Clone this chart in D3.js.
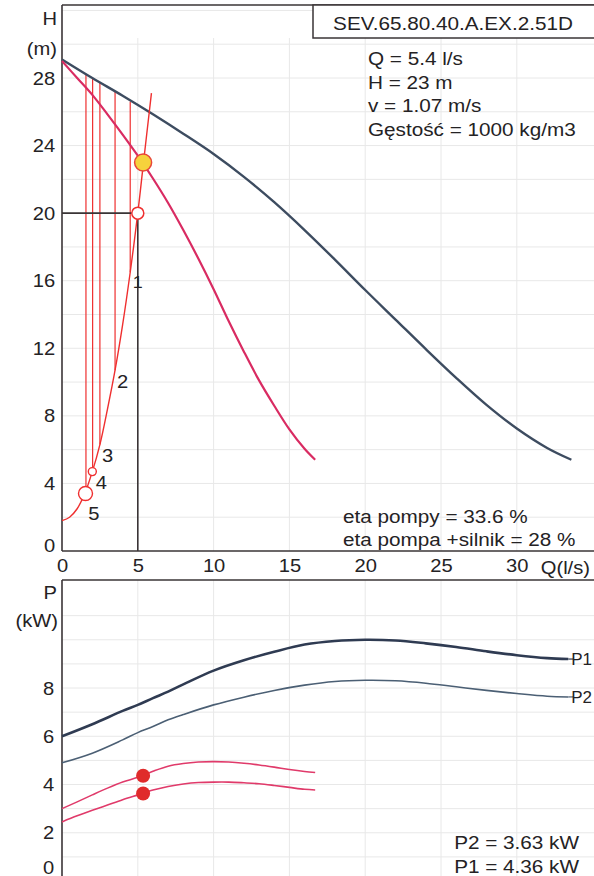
<!DOCTYPE html>
<html><head><meta charset="utf-8">
<script src="https://cdn.jsdelivr.net/npm/d3@7"></script>
<style>
html,body{margin:0;padding:0;background:#fff;}
svg{display:block;font-family:"Liberation Sans",Arial,sans-serif;}
</style></head>
<body><svg id="c" width="594" height="876"></svg>
<script>
// ---- data ----
const pumpQ = [0,2,4,6,8,10,12,14,16,18,20,22,24,26,28,30,32,33.6];
const pumpH = [29.1,28.0,26.95,25.85,24.7,23.5,22.15,20.65,19.0,17.25,15.45,13.7,11.95,10.25,8.65,7.25,6.1,5.4];
const redQ = [0,1,2,3,4,5,6,7,8,9,10,11,12,13,14,15,16,16.7];
const redH = [29.0,28.0,27.0,25.85,24.65,23.4,22.05,20.6,19.0,17.3,15.5,13.6,11.8,10.1,8.6,7.2,6.05,5.4];
const sysQ = [0,0.5,1,1.5,2,2.5,3,3.5,4,4.5,5,5.35,5.9];
const sysH = [1.8,2.0,2.5,3.4,4.7,6.3,8.4,10.7,13.4,16.5,20.0,22.8,27.1];
const vQ = [1.58,2.02,2.5,3.5,4.5];
const vTop = [28.2,28.0,27.7,27.2,26.6];
const vBot = [3.6,4.7,6.3,10.7,16.5];
const ptLabels = ["5","4","3","2","1"];
const ptLabQ = [2.1,2.6,3.0,4.0,5.0];
const ptLabH = [2.2,4.0,5.6,10.0,15.9];
const dutyQ = 5.35, dutyH = 23.0;
const refQ = 5.0, refH = 20.0;
const circQ = [1.55,2.0];
const circH = [3.4,4.7];

const p1Q = [0,2,4,5,6,7,8,10,12,14,16,18,20,22,24,26,28,30,32,33.4];
const p1V = [6.0,6.5,7.05,7.3,7.58,7.85,8.15,8.72,9.15,9.5,9.8,9.95,10.0,9.97,9.85,9.7,9.52,9.36,9.24,9.2];
const p2Q = [0,2,4,5,6,7,8,10,12,14,16,18,20,22,24,26,28,30,32,33.4];
const p2V = [4.9,5.3,5.85,6.15,6.4,6.68,6.9,7.3,7.62,7.9,8.12,8.27,8.32,8.3,8.2,8.05,7.9,7.77,7.66,7.63];
const rp1Q = [0,1,2,3,4,5,6,7,8,9,10,11,12,13,14,15,16,16.7];
const rp1V = [3.0,3.28,3.57,3.85,4.1,4.3,4.55,4.76,4.87,4.93,4.95,4.93,4.88,4.81,4.72,4.62,4.54,4.5];
const rp2Q = [0,1,2,3,4,5,6,7,8,9,10,11,12,13,14,15,16,16.7];
const rp2V = [2.45,2.7,2.93,3.15,3.37,3.57,3.77,3.92,4.02,4.08,4.1,4.1,4.07,4.03,3.96,3.88,3.8,3.77];
const dutyP1 = 4.36, dutyP2 = 3.63;

const xTicks = [0,5,10,15,20,25,30];
const hTicks = [0,4,8,12,16,20,24,28];
const pTicks = [0,2,4,6,8];
const infoLines = ["Q = 5.4 l/s","H = 23 m","v = 1.07 m/s","Gęstość = 1000 kg/m3"];
const titleText = "SEV.65.80.40.A.EX.2.51D";
const etaLines = ["eta pompy = 33.6 %","eta pompa +silnik = 28 %"];
const powLines = ["P2 = 3.63 kW","P1 = 4.36 kW"];

// ---- scales ----
const svg = d3.select("#c");
const x = d3.scaleLinear().domain([0,35]).range([62,62+35*15.16]);
const yH = d3.scaleLinear().domain([0,28]).range([551,78]);
const yP = d3.scaleLinear().domain([0,8]).range([881,688]);
const txt = "#242224", axisC = "#3a3436", gridC = "#e8e8e8";
const SX = 1.12;

function T(px, py, str, size, anchor, sx){
  return svg.append("text").attr("transform",`translate(${px},${py}) scale(${sx||SX},1)`)
    .attr("text-anchor",anchor||"start").attr("font-size",size).attr("fill",txt).text(str);
}

// ---- grids ----
const gTop = svg.append("g");
gTop.selectAll("line").data(d3.range(2,33,2)).join("line")
  .attr("x1",62).attr("x2",594).attr("y1",d=>yH(d)).attr("y2",d=>yH(d))
  .attr("stroke",gridC).attr("stroke-width",1);
const gTopV = svg.append("g");
gTopV.selectAll("line").data(xTicks.slice(1)).join("line")
  .attr("x1",d=>x(d)).attr("x2",d=>x(d)).attr("y1",38).attr("y2",551)
  .attr("stroke",gridC).attr("stroke-width",1);
const gBot = svg.append("g");
gBot.selectAll("line").data(d3.range(1,12)).join("line")
  .attr("x1",62).attr("x2",594).attr("y1",d=>yP(d)).attr("y2",d=>yP(d))
  .attr("stroke",gridC).attr("stroke-width",1);
const gBotV = svg.append("g");
gBotV.selectAll("line").data(xTicks.slice(1)).join("line")
  .attr("x1",d=>x(d)).attr("x2",d=>x(d)).attr("y1",580).attr("y2",876)
  .attr("stroke",gridC).attr("stroke-width",1);

// ---- frames / axes ----
svg.append("line").attr("x1",62).attr("x2",594).attr("y1",5).attr("y2",5).attr("stroke",axisC).attr("stroke-width",1.6);
svg.append("rect").attr("x",313).attr("y",5).attr("width",300).attr("height",33)
  .attr("fill","#fff").attr("stroke",axisC).attr("stroke-width",1.5);
svg.append("line").attr("x1",62).attr("x2",62).attr("y1",5).attr("y2",551).attr("stroke",axisC).attr("stroke-width",1.6);
svg.append("line").attr("x1",62).attr("x2",594).attr("y1",551).attr("y2",551).attr("stroke",axisC).attr("stroke-width",1.6);
svg.append("line").attr("x1",62).attr("x2",594).attr("y1",580).attr("y2",580).attr("stroke",axisC).attr("stroke-width",1.6);
svg.append("line").attr("x1",62).attr("x2",62).attr("y1",580).attr("y2",876).attr("stroke",axisC).attr("stroke-width",1.6);

const fs = 18;
// top y axis
const axH = svg.append("g").attr("transform","translate(62,0)")
  .call(d3.axisLeft(yH).tickValues(hTicks).tickSize(0).tickPadding(6));
axH.select(".domain").remove();
axH.selectAll("text").attr("font-size",fs).attr("fill",txt).attr("font-family","Liberation Sans, Arial")
  .attr("transform",`scale(${SX},1)`).attr("dy",d=>d===0?"0.05em":"0.34em");
// top x axis
const axX = svg.append("g").attr("transform","translate(0,551)")
  .call(d3.axisBottom(x).tickValues(xTicks).tickSize(0).tickPadding(8));
axX.select(".domain").remove();
axX.selectAll("text").attr("font-size",fs).attr("fill",txt).attr("font-family","Liberation Sans, Arial")
  .attr("transform",`scale(${SX},1)`);
T(590,574,"Q(l/s)",fs,"end");
// bottom y axis
const axP = svg.append("g").attr("transform","translate(62,0)")
  .call(d3.axisLeft(yP).tickValues(pTicks).tickSize(0).tickPadding(7));
axP.select(".domain").remove();
axP.selectAll("text").attr("font-size",fs).attr("fill",txt).attr("font-family","Liberation Sans, Arial")
  .attr("transform",`scale(${SX},1)`).attr("y",d=>d===0?-14:0).attr("dy","0.34em");

T(57,25,"H",fs,"end");
T(57,55,"(m)",fs,"end");
T(57,599,"P",fs,"end");
T(58,627,"(kW)",fs,"end");

// ---- texts ----
T(453,30,titleText,18.5,"middle");
infoLines.forEach((s,i)=>T(368,65+i*23.5,s,18.5));
etaLines.forEach((s,i)=>T(343,523+i*23,s,18.5));
powLines.forEach((s,i)=>T(579,849+i*24,s,18.5,"end"));

// ---- top curves ----
const zip = (a,b)=>a.map((v,i)=>[v,b[i]]);
const lineH = d3.line().x(d=>x(d[0])).y(d=>yH(d[1])).curve(d3.curveCatmullRom.alpha(0.5));
const lineP = d3.line().x(d=>x(d[0])).y(d=>yP(d[1])).curve(d3.curveCatmullRom.alpha(0.5));
const sysRed = "#ef2f2f";

// vertical red lines
svg.append("g").selectAll("line").data(vQ).join("line")
  .attr("x1",d=>x(d)).attr("x2",d=>x(d)).attr("y1",(d,i)=>yH(vTop[i])).attr("y2",(d,i)=>yH(vBot[i]))
  .attr("stroke",sysRed).attr("stroke-width",1.2);

// black reference lines
svg.append("line").attr("x1",62).attr("x2",x(refQ)-6).attr("y1",yH(refH)).attr("y2",yH(refH)).attr("stroke",axisC).attr("stroke-width",1.6);
svg.append("line").attr("x1",x(refQ)).attr("x2",x(refQ)).attr("y1",yH(refH)+6).attr("y2",551).attr("stroke",axisC).attr("stroke-width",1.6);

svg.append("path").attr("d",lineH(zip(pumpQ,pumpH))).attr("fill","none").attr("stroke","#3d4c60").attr("stroke-width",2.4);
svg.append("path").attr("d",lineH(zip(redQ,redH))).attr("fill","none").attr("stroke","#d92b62").attr("stroke-width",2.2);
svg.append("path").attr("d",lineH(zip(sysQ,sysH))).attr("fill","none").attr("stroke",sysRed).attr("stroke-width",1.4);

// circles
svg.append("circle").attr("cx",x(refQ)).attr("cy",yH(refH)).attr("r",6).attr("fill","#fff").attr("stroke",sysRed).attr("stroke-width",1.5);
svg.append("g").selectAll("circle").data(circQ).join("circle")
  .attr("cx",d=>x(d)).attr("cy",(d,i)=>yH(circH[i])).attr("r",(d,i)=>i===0?7:4)
  .attr("fill","#fff").attr("stroke",sysRed).attr("stroke-width",1.4);
svg.append("circle").attr("cx",x(dutyQ)).attr("cy",yH(dutyH)).attr("r",8.5).attr("fill","#f6d23c").attr("stroke","#e8463a").attr("stroke-width",1.5);

ptLabels.forEach((s,i)=>T(x(ptLabQ[i]),yH(ptLabH[i])+6,s,i===4?16:18,"middle"));

// ---- bottom curves ----
svg.append("path").attr("d",lineP(zip(p1Q,p1V))).attr("fill","none").attr("stroke","#2f3b52").attr("stroke-width",2.6);
svg.append("path").attr("d",lineP(zip(p2Q,p2V))).attr("fill","none").attr("stroke","#4b5f74").attr("stroke-width",1.6);
svg.append("path").attr("d",lineP(zip(rp1Q,rp1V))).attr("fill","none").attr("stroke","#e03a6a").attr("stroke-width",1.6);
svg.append("path").attr("d",lineP(zip(rp2Q,rp2V))).attr("fill","none").attr("stroke","#e03a6a").attr("stroke-width",1.6);
// leaders + labels
svg.append("line").attr("x1",x(33.4)).attr("x2",573).attr("y1",yP(9.2)).attr("y2",yP(9.2)).attr("stroke","#2f3b52").attr("stroke-width",1.2);
svg.append("line").attr("x1",x(33.4)).attr("x2",573).attr("y1",yP(7.63)).attr("y2",yP(7.63)).attr("stroke","#4b5f74").attr("stroke-width",1.2);
T(592,yP(9.2)+6,"P1",17,"end",1);
T(592,yP(7.63)+6,"P2",17,"end",1);
svg.append("g").selectAll("circle").data([dutyP1,dutyP2]).join("circle")
  .attr("cx",x(dutyQ)).attr("cy",d=>yP(d)).attr("r",7).attr("fill","#e02b2b");
</script></body></html>
